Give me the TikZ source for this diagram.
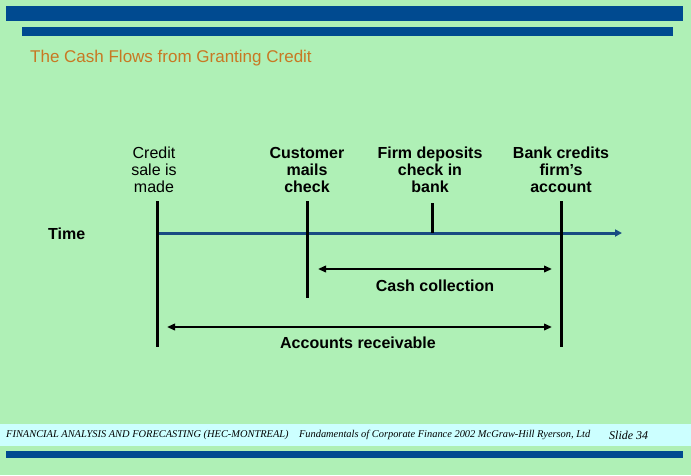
\documentclass[tikz,border=0pt]{standalone}
\usepackage{fontspec}
\setmainfont{Liberation Sans}
\newfontfamily\footserif{Liberation Serif}
\usetikzlibrary{arrows.meta}
\definecolor{bg}{RGB}{175,240,182}
\definecolor{barblue}{RGB}{0,74,144}
\definecolor{footcyan}{RGB}{204,255,255}
\definecolor{titleorange}{RGB}{200,120,35}
\definecolor{timeblue}{RGB}{25,75,130}
\tikzset{
  lbl/.style={align=center, font=\fontsize{16}{17}\selectfont\bfseries, inner sep=0pt},
  lbllight/.style={align=center, font=\fontsize{16}{17}\selectfont, inner sep=0pt},
  tick/.style={line width=3pt, black},
  timeline/.style={line width=3pt, timeblue, -{Triangle[length=7pt,width=7pt]}},
  span/.style={line width=2.2pt, black, {Triangle[length=8pt,width=6.5pt]}-{Triangle[length=8pt,width=6.5pt]}},
}
\begin{document}
\begin{tikzpicture}[x=1pt,y=-1pt]
\useasboundingbox (0,0) rectangle (691,475);
\fill[bg] (0,0) rectangle (691,475);
% bars
\fill[barblue] (6,6) rectangle (683,21);
\fill[barblue] (22,27) rectangle (673,36);
\fill[footcyan] (0,424) rectangle (691,446);
\fill[barblue] (6,451) rectangle (683,458);
% title
\node[anchor=west, inner sep=0pt, text=titleorange, font=\fontsize{17}{20}\selectfont] (title) at (30,58) {The Cash Flows from Granting Credit};
% event labels
\node[lbllight] (l1) at (154,170) {Credit\\sale is\\made};
\node[lbl] (l2) at (307,170) {Customer\\mails\\check};
\node[lbl] (l3) at (430,170) {Firm deposits\\check in\\bank};
\node[lbl] (l4) at (561,170) {Bank credits\\firm’s\\account};
\node[lbl, anchor=west] (time) at (48,234) {Time};
% coordinates
\coordinate (t1top) at (157,201);
\coordinate (t1bot) at (157,347);
\coordinate (t2top) at (307,201);
\coordinate (t2bot) at (307,298);
\coordinate (t3top) at (432,203);
\coordinate (t3bot) at (432,233);
\coordinate (t4top) at (561,201);
\coordinate (t4bot) at (561,347);
\coordinate (tlstart) at (157,233);
\coordinate (tlend) at (622,233);
\coordinate (ccl) at (318,269);
\coordinate (ccr) at (552,269);
\coordinate (arl) at (167,327);
\coordinate (arr) at (552,327);
% timeline and ticks
\draw[timeline] (tlstart) -- (tlend);
\draw[tick] (t1top) -- (t1bot);
\draw[tick] (t2top) -- (t2bot);
\draw[tick] (t3top) -- (t3bot);
\draw[tick] (t4top) -- (t4bot);
% spans
\draw[span] (ccl) -- (ccr);
\draw[span] (arl) -- (arr);
\node[lbl] (cc) at (435,286) {Cash collection};
\node[lbl] (ar) at (358,343) {Accounts receivable};
% footer
\node[anchor=west, inner sep=0pt, font=\footserif\itshape\fontsize{10}{12}\selectfont] (foot) at (6,435) {\resizebox{584pt}{!}{FINANCIAL ANALYSIS AND FORECASTING (HEC-MONTREAL)\quad Fundamentals of Corporate Finance 2002 McGraw-Hill Ryerson, Ltd}};
\node[anchor=west, inner sep=0pt, font=\footserif\itshape\fontsize{12}{14}\selectfont] (slide) at (609,435) {Slide 34};
\end{tikzpicture}
\end{document}
